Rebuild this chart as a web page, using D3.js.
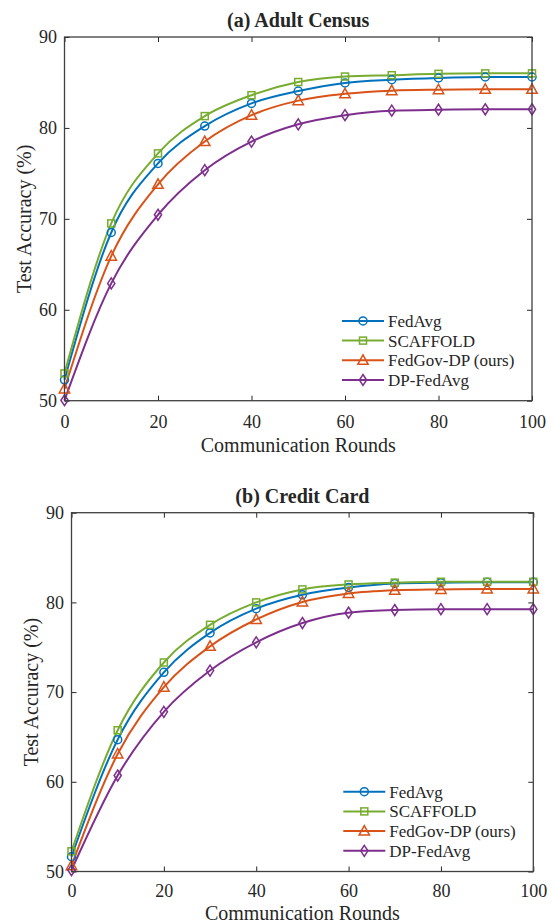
<!DOCTYPE html>
<html lang="en">
<head>
    <meta charset="UTF-8"/>
    <title>accuracy</title>
    <script src="https://d3js.org/d3.v7.min.js"></script>
    <style type="text/css">
        body { margin: 0; background: white; }
        text { font-family: "Liberation Serif", "Times New Roman", serif; fill: #262626; }
        .tick line { stroke: #262626; stroke-width: 1; }
        .domain { display: none; }
    </style>
</head>
<body>
<svg id="main" width="555" height="924"></svg>
<script>

// communication rounds where markers sit
var rounds = [0, 10, 20, 30, 40, 50, 60, 70, 80, 90, 100]
var seriesNames = ["FedAvg", "SCAFFOLD", "FedGov-DP (ours)", "DP-FedAvg"]
var xTicks = [0, 20, 40, 60, 80, 100]
var yTicks = [50, 60, 70, 80, 90]

// (a) Adult Census
var adultFedAvg   = [52.3, 68.5, 76.1, 80.2, 82.7, 84.05, 84.95, 85.3, 85.5, 85.6, 85.6]
var adultScaffold = [53.0, 69.5, 77.2, 81.3, 83.6, 85.05, 85.65, 85.8, 85.95, 86.0, 86.0]
var adultFedGov   = [51.3, 65.9, 73.8, 78.5, 81.4, 83.0, 83.75, 84.1, 84.2, 84.25, 84.25]
var adultDpAvg    = [50.05, 62.9, 70.45, 75.35, 78.5, 80.4, 81.4, 81.9, 82.0, 82.05, 82.05]

// (b) Credit Card
var creditFedAvg   = [51.65, 64.7, 72.2, 76.6, 79.3, 80.85, 81.65, 82.1, 82.2, 82.25, 82.25]
var creditScaffold = [52.25, 65.75, 73.3, 77.5, 80.0, 81.45, 82.0, 82.2, 82.3, 82.3, 82.3]
var creditFedGov   = [50.65, 63.1, 70.55, 75.1, 78.1, 80.05, 81.0, 81.35, 81.45, 81.5, 81.5]
var creditDpAvg    = [50.15, 60.7, 67.8, 72.4, 75.55, 77.7, 78.85, 79.15, 79.25, 79.25, 79.25]

var colors = ["#0072BD", "#77AC30", "#D95319", "#7E2F8E"]
var shapes = ["circle", "square", "triangle", "diamond"]

var svg = d3.select("#main")

// draw one marker shape centred on 0,0
function marker(g, shape, color) {
  var m
  if (shape == "circle") {
    m = g.append("circle").attr("r", 4)
  } else if (shape == "square") {
    m = g.append("rect").attr("x", -3.5).attr("y", -3.5).attr("width", 7).attr("height", 7)
  } else if (shape == "triangle") {
    m = g.append("path").attr("d", "M0,-5.5L5.2,4L-5.2,4Z")
  } else {
    m = g.append("path").attr("d", "M0,-5.5L3.6,0L0,5.5L-3.6,0Z")
  }
  m.attr("fill", "none").attr("stroke", color).attr("stroke-width", 1.5)
}

function panel(title, series, left, right, top, bottom, tickPad, labelGap) {
  var x = d3.scaleLinear().domain([0, 100]).range([left, right])
  var y = d3.scaleLinear().domain([50, 90]).range([bottom, top])
  var g = svg.append("g")

  // ticks on all four sides, pointing inside
  g.append("g").attr("transform", "translate(0," + bottom + ")")
    .call(d3.axisBottom(x).tickValues(xTicks).tickSizeInner(-5).tickSizeOuter(0).tickPadding(tickPad))
    .selectAll("text").style("font-size", "18px")
  g.append("g").attr("transform", "translate(0," + top + ")")
    .call(d3.axisTop(x).tickValues(xTicks).tickSizeInner(-5).tickSizeOuter(0).tickFormat(""))
  g.append("g").attr("transform", "translate(" + left + ",0)")
    .call(d3.axisLeft(y).tickValues(yTicks).tickSizeInner(-5).tickSizeOuter(0).tickPadding(7.5))
    .selectAll("text").style("font-size", "18px")
  g.append("g").attr("transform", "translate(" + right + ",0)")
    .call(d3.axisRight(y).tickValues(yTicks).tickSizeInner(-5).tickSizeOuter(0).tickFormat(""))
  g.selectAll(".tick text").attr("fill", "#262626").style("font-family", "'Liberation Serif', serif")

  var line = d3.line()
    .x(function(d, i) { return x(rounds[i]) })
    .y(function(d) { return y(d) })
    .curve(d3.curveMonotoneX)

  series.forEach(function(s, k) {
    g.append("path").attr("d", line(s))
      .attr("fill", "none").attr("stroke", colors[k]).attr("stroke-width", 2)
  })
  series.forEach(function(s, k) {
    s.forEach(function(v, i) {
      marker(g.append("g").attr("transform", "translate(" + x(rounds[i]) + "," + y(v) + ")"), shapes[k], colors[k])
    })
  })

  // axes box
  g.append("rect").attr("x", left).attr("y", top)
    .attr("width", right - left).attr("height", bottom - top)
    .attr("fill", "none").attr("stroke", "#404040").attr("stroke-width", 1.3)

  g.append("text").attr("x", (left + right) / 2).attr("y", top - 10)
    .attr("text-anchor", "middle").style("font-size", "20px").style("font-weight", "bold")
    .text(title)
  g.append("text").attr("x", (left + right) / 2).attr("y", bottom + labelGap)
    .attr("text-anchor", "middle").style("font-size", "20px")
    .text("Communication Rounds")
  g.append("text")
    .attr("transform", "translate(" + (left - 34) + "," + (top + bottom) / 2 + ") rotate(-90)")
    .attr("text-anchor", "middle").style("font-size", "20px")
    .text("Test Accuracy (%)")

  // legend, no box
  var lx = right - 190
  seriesNames.forEach(function(name, k) {
    var ly = bottom - 20.7 - (3 - k) * 19.7
    g.append("line").attr("x1", lx).attr("x2", lx + 42).attr("y1", ly).attr("y2", ly)
      .attr("stroke", colors[k]).attr("stroke-width", 2)
    marker(g.append("g").attr("transform", "translate(" + (lx + 21) + "," + ly + ")"), shapes[k], colors[k])
    g.append("text").attr("x", lx + 46).attr("y", ly).attr("dy", "0.35em")
      .style("font-size", "17px").text(name)
  })
}

panel("(a) Adult Census", [adultFedAvg, adultScaffold, adultFedGov, adultDpAvg], 64.5, 532, 37, 400.7, 15, 51)
panel("(b) Credit Card", [creditFedAvg, creditScaffold, creditFedGov, creditDpAvg], 71.5, 533.3, 512.7, 871.5, 13, 48.5)

</script>
</body>
</html>
